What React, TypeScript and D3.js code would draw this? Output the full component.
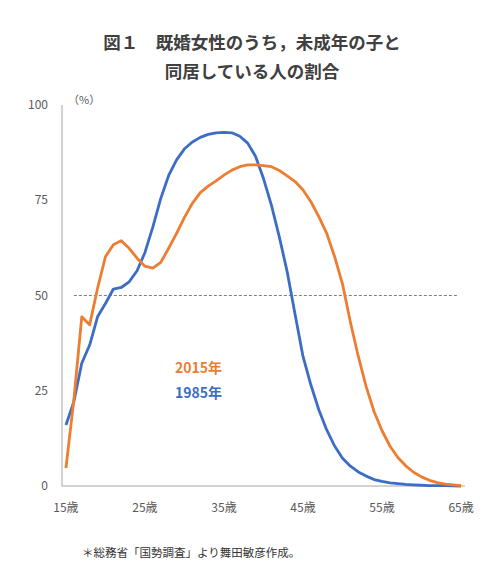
import * as d3 from 'd3';

// Age categories (15 to 65), one point per year
const ages = d3.range(15, 66);
const tickAges = [15, 25, 35, 45, 55, 65];
const yTicks = [0, 25, 50, 75, 100];

// Share of married women living with an underage child (%)
const values2015 = [
  4.7, 22.6, 44.4, 42.3, 51.9, 60.2, 63.3, 64.4, 62.4, 59.8,
  57.7, 57.2, 58.7, 62.4, 66.3, 70.5, 74.2, 77.0, 78.7, 80.1,
  81.6, 82.9, 83.8, 84.3, 84.3, 84.1, 83.8, 82.8, 81.4, 79.9,
  77.7, 74.6, 70.7, 66.3, 60.2, 53.0, 43.0, 34.0, 26.0, 19.5,
  14.5, 10.5, 7.5, 5.3, 3.6, 2.4, 1.5, 0.9, 0.5, 0.3, 0.1,
];
const values1985 = [
  16.0, 22.1, 32.2, 37.0, 44.4, 47.9, 51.7, 52.1, 53.6, 56.5,
  61.3, 68.0, 75.5, 81.5, 85.6, 88.5, 90.3, 91.5, 92.3, 92.7,
  92.8, 92.7, 91.8, 90.0, 86.5, 80.7, 73.7, 65.4, 56.2, 45.0,
  34.0, 26.5, 20.0, 14.7, 10.5, 7.3, 5.2, 3.7, 2.6, 1.7,
  1.2, 0.8, 0.6, 0.4, 0.3, 0.2, 0.1, 0.1, 0.1, 0.05, 0,
];

const titleLines = ['図１　既婚女性のうち，未成年の子と', '同居している人の割合'];
const note = '＊総務省「国勢調査」より舞田敏彦作成。';

const ORANGE = '#ED7D31';
const BLUE = '#3C6DC5';
const FONT = '"Noto Sans CJK JP", "Noto Sans", sans-serif';

export default function App() {
  const width = 500;
  const height = 587;

  const x = d3.scalePoint<number>().domain(ages).range([62, 465]).padding(0.5);
  const y = d3.scaleLinear().domain([0, 100]).range([486, 105]);

  const line = d3
    .line<number>()
    .x((_, i) => x(ages[i])!)
    .y((d) => y(d));

  return (
    <svg
      width={width}
      height={height}
      style={{ position: 'absolute', left: 0, top: 0, background: '#fff' }}
      fontFamily={FONT}
    >
      {/* title */}
      {titleLines.map((t, i) => (
        <text
          key={t}
          x={252}
          y={49 + i * 29}
          textAnchor="middle"
          fontSize={17.5}
          fontWeight="bold"
          fill="#404040"
        >
          {t}
        </text>
      ))}

      {/* unit */}
      <text x={68} y={104} fontSize={11} fill="#595959">
        （%）
      </text>

      {/* axes */}
      <line x1={62} x2={62} y1={y(100)} y2={y(0)} stroke="#A6A6A6" strokeWidth={1} />
      <line x1={62} x2={465} y1={y(0)} y2={y(0)} stroke="#A6A6A6" strokeWidth={1} />

      {yTicks.map((t) => (
        <text
          key={t}
          x={48}
          y={y(t)}
          dy="0.35em"
          textAnchor="end"
          fontSize={12}
          fill="#595959"
        >
          {t}
        </text>
      ))}

      {tickAges.map((a) => (
        <text
          key={a}
          x={x(a)}
          y={512}
          textAnchor="middle"
          fontSize={12}
          fill="#595959"
        >
          {`${a}歳`}
        </text>
      ))}

      {/* 50% reference */}
      <line
        x1={x(16)}
        x2={x(65)! - 3}
        y1={y(50)}
        y2={y(50)}
        stroke="#7F7F7F"
        strokeWidth={1}
        strokeDasharray="3,2"
      />

      {/* series */}
      <path d={line(values1985) ?? ''} fill="none" stroke={BLUE} strokeWidth={2.8} strokeLinejoin="round" />
      <path d={line(values2015) ?? ''} fill="none" stroke={ORANGE} strokeWidth={2.8} strokeLinejoin="round" />

      {/* labels */}
      <text x={175} y={373} fontSize={14} fontWeight="bold" fill={ORANGE}>
        2015年
      </text>
      <text x={175} y={398} fontSize={14} fontWeight="bold" fill={BLUE}>
        1985年
      </text>

      {/* source note */}
      <text x={82} y={557} fontSize={11.5} fill="#333333">
        {note}
      </text>
    </svg>
  );
}
